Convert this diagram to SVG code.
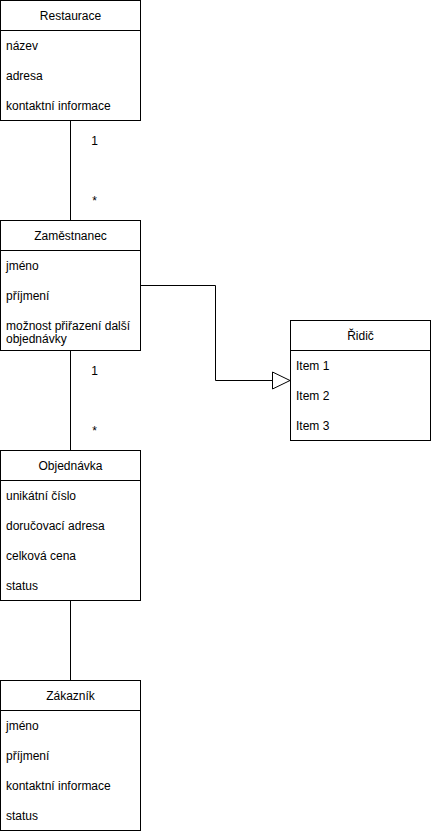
<svg xmlns="http://www.w3.org/2000/svg" width="431" height="831" viewBox="0 0 431 831">
<defs>
<style>
.box{fill:#fff;stroke:#000;stroke-width:1}
.ln{fill:none;stroke:#000;stroke-width:1}
text{font-family:"Liberation Sans",Arial,Helvetica,sans-serif;font-size:12px;fill:#000}
.h{text-anchor:middle}
.lbl{text-anchor:middle}
</style>
</defs>
<rect width="431" height="831" fill="#fff"/>
<g id="connectors">
<line class="ln" x1="70.5" y1="120" x2="70.5" y2="220"/>
<line class="ln" x1="70.5" y1="350" x2="70.5" y2="450"/>
<line class="ln" x1="70.5" y1="600" x2="70.5" y2="680"/>
<polyline class="ln" points="140,285.5 215.5,285.5 215.5,380.5 272.5,380.5"/>
<polygon points="272.5,372 290,380.5 272.5,389" fill="#fff" stroke="#000" stroke-width="1"/>
<text class="lbl" x="94.5" y="145">1</text>
<text class="lbl" x="94.5" y="205">*</text>
<text class="lbl" x="94.5" y="375">1</text>
<text class="lbl" x="94.5" y="435">*</text>
</g>
<g id="restaurace">
<rect class="box" x="0.5" y="0.5" width="140" height="120"/>
<line class="ln" x1="0.5" y1="30.5" x2="140.5" y2="30.5"/>
<text class="h" x="70.5" y="19.5">Restaurace</text>
<text x="6" y="49.5">název</text>
<text x="6" y="79.5">adresa</text>
<text x="6" y="109.5">kontaktní informace</text>
</g>
<g id="zamestnanec">
<rect class="box" x="0.5" y="220.5" width="140" height="130"/>
<line class="ln" x1="0.5" y1="250.5" x2="140.5" y2="250.5"/>
<text class="h" x="70.5" y="239.5">Zaměstnanec</text>
<text x="6" y="269.5">jméno</text>
<text x="6" y="299.5">příjmení</text>
<text x="6" y="329.5">možnost přiřazení další</text>
<text x="6" y="342.5">objednávky</text>
</g>
<g id="ridic">
<rect class="box" x="290.5" y="320.5" width="140" height="120"/>
<line class="ln" x1="290.5" y1="350.5" x2="430.5" y2="350.5"/>
<text class="h" x="360.5" y="339.5">Řidič</text>
<text x="296" y="369.5">Item 1</text>
<text x="296" y="399.5">Item 2</text>
<text x="296" y="429.5">Item 3</text>
</g>
<g id="objednavka">
<rect class="box" x="0.5" y="450.5" width="140" height="150"/>
<line class="ln" x1="0.5" y1="480.5" x2="140.5" y2="480.5"/>
<text class="h" x="70.5" y="469.5">Objednávka</text>
<text x="6" y="499.5">unikátní číslo</text>
<text x="6" y="529.5">doručovací adresa</text>
<text x="6" y="559.5">celková cena</text>
<text x="6" y="589.5">status</text>
</g>
<g id="zakaznik">
<rect class="box" x="0.5" y="680.5" width="140" height="150"/>
<line class="ln" x1="0.5" y1="710.5" x2="140.5" y2="710.5"/>
<text class="h" x="70.5" y="699.5">Zákazník</text>
<text x="6" y="729.5">jméno</text>
<text x="6" y="759.5">příjmení</text>
<text x="6" y="789.5">kontaktní informace</text>
<text x="6" y="819.5">status</text>
</g>
</svg>
